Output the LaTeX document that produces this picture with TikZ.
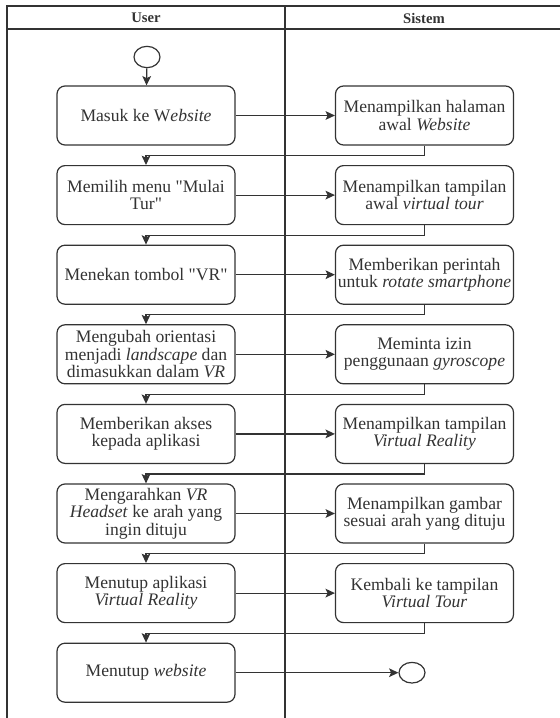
\documentclass[tikz,border=0pt]{standalone}
\usepackage{fontspec}
\setmainfont{Liberation Serif}
\usetikzlibrary{arrows.meta,shapes.geometric}
\definecolor{ink}{HTML}{333333}
\tikzset{
  act/.style={draw=ink, line width=0.9pt, rounded corners=6pt, minimum width=133.5pt,
    minimum height=44.25pt, inner sep=0pt, align=center, text=ink,
    font=\fontsize{13.2pt}{13pt}\selectfont},
  endpt/.style={draw=ink, line width=0.9pt, ellipse, minimum width=19.5pt, minimum height=16pt, inner sep=0pt},
  lane/.style={draw=ink, line width=0.9pt},
  flow/.style={draw=ink, line width=0.9pt, -{Stealth[length=7pt,width=6.5pt,inset=1.5pt]}},
  head/.style={text=ink, font=\fontsize{11pt}{13pt}\selectfont\bfseries}
}
\newcommand{\qq}{\textquotedbl}
\begin{document}
\begin{tikzpicture}[x=0.75pt,y=-0.75pt]
\useasboundingbox (0,0) rectangle (560,718);
% swimlane frame
\draw[lane] (7,718) -- (7,6) -- (560,6);
\draw[lane] (7,29) -- (560,29);
\draw[lane] (285,6) -- (285,718);
\node[head] (hu) at (146,18) {User};
\node[head] (hs) at (424,18) {Sistem};

% start / end
\node[endpt] (start) at (147,57) {};
\node[endpt, minimum height=15.5pt] (stop) at (412,672.7) {};

% user actions
\node[act] (l1) at (146,115.5) {Masuk ke W\textit{ebsite}};
\node[act] (l2) at (146,195.1) {Memilih menu \qq Mulai\\Tur\qq};
\node[act] (l3) at (146,274.7) {Menekan tombol \qq VR\qq};
\node[act] (l4) at (146,354.3) {Mengubah orientasi\\menjadi \textit{landscape} dan\\dimasukkan dalam \textit{VR}};
\node[act] (l5) at (146,433.9) {Memberikan akses\\kepada aplikasi};
\node[act] (l6) at (146,513.5) {Mengarahkan \textit{VR}\\\textit{Headset} ke arah yang\\ingin dituju};
\node[act] (l7) at (146,593.1) {Menutup aplikasi\\\textit{Virtual Reality}};
\node[act] (l8) at (146,672.7) {Menutup \textit{website}};

% system actions
\node[act] (r1) at (424.5,115.5) {Menampilkan halaman\\awal \textit{Website}};
\node[act] (r2) at (424.5,195.1) {Menampilkan tampilan\\awal \textit{virtual tour}};
\node[act] (r3) at (424.5,274.7) {Memberikan perintah\\untuk \textit{rotate smartphone}};
\node[act] (r4) at (424.5,354.3) {Meminta izin\\penggunaan \textit{gyroscope}};
\node[act] (r5) at (424.5,433.9) {Menampilkan tampilan\\\textit{Virtual Reality}};
\node[act] (r6) at (424.5,513.5) {Menampilkan gambar\\sesuai arah yang dituju};
\node[act] (r7) at (424.5,593.1) {Kembali ke tampilan\\\textit{Virtual Tour}};

% flows
\draw[flow] (start) -- (l1);
\foreach \i in {1,...,7} {
  \draw[flow] (l\i.east) -- (r\i.west);
}
\foreach \i/\j in {1/2,2/3,3/4,4/5,5/6,6/7,7/8} {
  \draw[flow] (r\i.south) -- ++(0,10) -| (l\j.north);
}
\draw[flow] (l8.east) -- (stop.west);
\end{tikzpicture}
\end{document}
